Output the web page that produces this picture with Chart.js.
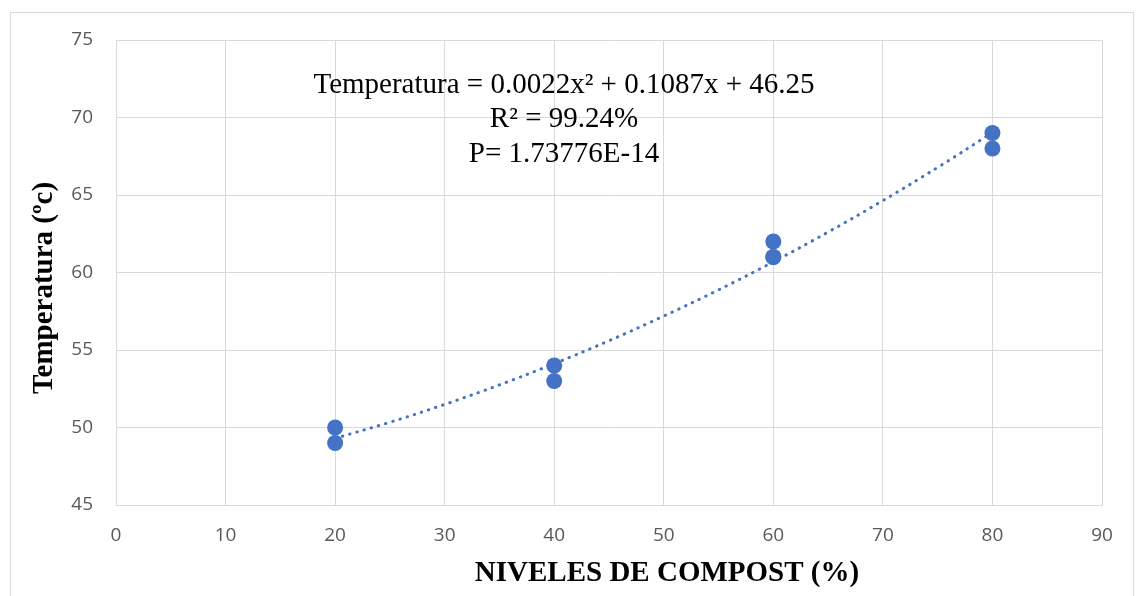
<!DOCTYPE html>
<html>
<head>
<meta charset="utf-8">
<script src="https://cdn.jsdelivr.net/npm/chart.js@4"></script>
<style>
  html, body { margin: 0; padding: 0; background: #fff; }
  body { width: 1136px; height: 596px; position: relative; overflow: hidden; }
  #frame { position: absolute; left: 10px; top: 12px; width: 1124px; height: 600px; border: 1px solid #d9d9d9; box-sizing: border-box; }
  #wrap { position: absolute; left: 0; top: 0; width: 1136px; height: 596px; }
</style>
</head>
<body>
<div id="frame"></div>
<div id="wrap"><canvas id="tempChart"></canvas></div>
<script>
// observed points (compost level %, temperature ºC)
const compostLevels = [20, 20, 40, 40, 60, 60, 60, 80, 80];
const temperatures = [50, 49, 54, 53, 62, 61, 61, 69, 68];

// trendline as drawn
const trendX = [20, 25, 30, 35, 40, 45, 50, 55, 60, 65, 70, 75, 80];
const trendY = [49.3, 50.34, 51.49, 52.75, 54.12, 55.6, 57.19, 58.88, 60.69, 62.61, 64.64, 66.78, 69.03];

const xTicks = [0, 10, 20, 30, 40, 50, 60, 70, 80, 90];
const yTicks = [45, 50, 55, 60, 65, 70, 75];

const annotationLines = [
    'Temperatura = 0.0022x² + 0.1087x + 46.25',
    'R² = 99.24%',
    'P= 1.73776E-14'
];
const xTitle = 'NIVELES DE COMPOST (%)';
const yTitle = 'Temperatura (ºc)';

const blue = '#4472C4';
const gridColor = '#d9d9d9';
const tickFont = { family: 'Open Sans', size: 19 };

const titlesPlugin = {
    id: 'titles',
    afterDraw(chart) {
        const ctx = chart.ctx;
        ctx.save();
        ctx.fillStyle = '#000';
        ctx.textAlign = 'center';
        ctx.textBaseline = 'middle';

        ctx.font = '29px "Liberation Serif"';
        const ys = [85, 119, 154];
        annotationLines.forEach((line, i) => ctx.fillText(line, 564, ys[i]));

        ctx.font = 'bold 29px "Liberation Serif"';
        ctx.fillText(xTitle, 667, 574);

        ctx.translate(45, 288);
        ctx.rotate(-Math.PI / 2);
        ctx.fillText(yTitle, 0, 0);
        ctx.restore();
    }
};

const points = compostLevels.map((x, i) => ({ x: x, y: temperatures[i] }));
const trend = trendX.map((x, i) => ({ x: x, y: trendY[i] }));

new Chart(document.getElementById('tempChart'), {
    type: 'scatter',
    data: {
        datasets: [
            {
                label: 'Temperatura',
                data: points,
                backgroundColor: blue,
                borderWidth: 0,
                pointRadius: 8,
                pointHoverRadius: 8,
                order: 1
            },
            {
                label: 'Tendencia',
                data: trend,
                type: 'line',
                showLine: true,
                borderColor: blue,
                borderWidth: 3,
                borderDash: [0.5, 7],
                borderCapStyle: 'round',
                pointRadius: 0,
                tension: 0.4,
                fill: false,
                order: 2
            }
        ]
    },
    options: {
        responsive: true,
        maintainAspectRatio: false,
        animation: false,
        layout: { padding: { left: 56, top: 40, right: 34, bottom: 41 } },
        plugins: {
            legend: { display: false },
            tooltip: { enabled: false }
        },
        scales: {
            x: {
                type: 'linear',
                min: 0,
                max: 90,
                afterBuildTicks: (axis) => { axis.ticks = xTicks.map(v => ({ value: v })); },
                afterFit: (axis) => { axis.height = 50; },
                grid: { color: gridColor, lineWidth: 1, drawTicks: false },
                border: { color: gridColor },
                ticks: { color: '#595959', font: tickFont, padding: 19, maxRotation: 0 }
            },
            y: {
                type: 'linear',
                min: 45,
                max: 75,
                afterBuildTicks: (axis) => { axis.ticks = yTicks.map(v => ({ value: v })); },
                afterFit: (axis) => { axis.width = 60; },
                grid: { color: gridColor, lineWidth: 1, drawTicks: false },
                border: { color: gridColor },
                ticks: { color: '#595959', font: tickFont, padding: 23 }
            }
        }
    },
    plugins: [titlesPlugin]
});
</script>
</body>
</html>
